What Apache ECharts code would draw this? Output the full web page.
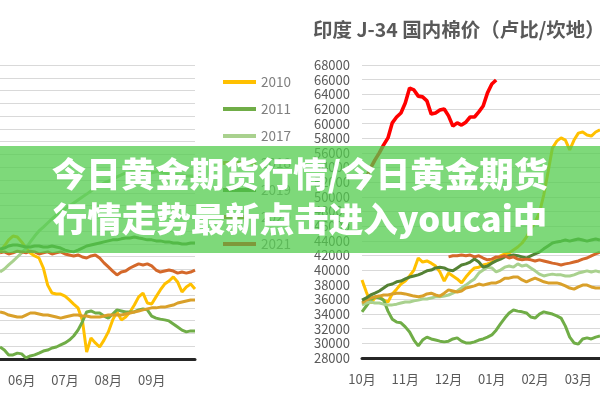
<!DOCTYPE html>
<html><head><meta charset="utf-8">
<script src="https://cdn.jsdelivr.net/npm/echarts/dist/echarts.min.js"></script>
<style>html,body{margin:0;padding:0;background:#fff}#c{width:600px;height:400px}</style>
</head><body><div id="c"></div>
<script>
// ---------- data ----------
const legendYears = ['2010','2011','2017','2018','2019','2020','2021'];
const yearColors  = ['#FFC000','#70AD47','#A9D18E','#D9A02A','#548235','#D4682A','#FF0000'];

// left chart (cut off on the left), 46 samples, month ticks at listed indices
const leftMonthTicks = {5:'06月',15:'07月',25:'08月',35:'09月'};
const left2010 = [101.9,104.2,106.6,108.1,107.7,105.8,103.4,101.5,100.3,99.5,95.6,88.9,85.8,85.4,85.4,84.6,83.1,81.5,80.0,75.3,62.7,68.2,66.3,64.7,67.4,70.6,75.3,78.4,75.3,76.4,78.4,81.1,84.3,85.8,81.9,81.5,84.3,87.0,89.3,90.5,92.1,90.1,86.2,88.2,89.3,87.4];
const left2011 = [64.7,63.5,61.6,61.6,62.3,62.0,60.4,61.2,61.6,62.3,63.1,63.5,64.3,64.7,65.5,66.3,67.4,69.0,71.3,74.5,78.4,78.8,78.0,78.0,76.8,76.0,77.6,79.2,78.8,78.4,78.4,78.4,79.2,79.6,79.2,76.8,76.0,75.6,75.3,74.9,73.7,72.5,71.3,70.6,71.0,71.0];
const left2017 = [94.0,95.2,96.8,98.3,99.9,101.5,103.4,105.8,108.1,110.1,111.6,113.2,114.8,116.3,117.5,118.7,119.9,121.0,122.2,123.4,124.5,125.7,126.9,127.7,128.8,129.6,130.4,131.2,132.0,132.8,133.2,133.2,133.6,133.6,133.2,132.8,133.2,133.2,132.8,132.4,132.4,132.0,132.0,131.6,131.6,131.6];
const left2018 = [78.4,78.0,77.2,76.8,76.4,76.4,77.2,78.0,78.0,77.6,77.2,77.2,76.8,76.4,76.0,76.4,76.8,77.2,77.2,76.8,76.8,76.4,76.4,76.4,76.8,77.2,77.2,77.2,77.2,77.6,78.0,78.4,78.8,79.2,79.6,80.0,80.0,80.3,80.3,80.7,81.1,81.9,82.3,82.7,83.1,83.1];
const left2019 = [103.0,103.4,104.2,104.6,104.6,104.2,103.8,103.8,104.2,104.2,103.8,103.8,104.2,103.8,103.4,102.6,102.2,101.9,102.6,103.4,104.2,104.6,105.0,105.4,105.8,106.2,106.6,106.6,107.0,107.3,107.3,107.7,107.3,107.0,106.6,106.6,106.2,106.2,105.8,105.8,105.4,105.4,105.0,105.0,105.4,105.4];
const left2020 = [101.5,101.9,101.1,101.5,102.2,101.9,101.5,102.2,101.9,101.1,101.5,101.9,101.1,101.5,101.9,101.1,100.7,100.3,100.7,99.9,99.5,100.3,100.7,99.5,97.6,96.0,94.4,92.9,94.0,94.4,95.6,96.4,97.2,96.8,97.2,96.4,94.8,94.0,94.4,94.8,94.4,93.6,94.0,93.6,94.0,94.8];

// right chart: India J-34 domestic price (rupee / candy), 56 samples from October
const rightMonthTicks = {0:'10月',10:'11月',20:'12月',30:'01月',40:'02月',50:'03月'};
const right2010 = [38650,37000,35500,36200,36450,35900,35650,36750,37400,38100,38500,39200,40000,41650,41100,41250,40950,40550,39750,38500,39600,39200,38800,38250,39050,39750,40300,40400,40700,40850,41100,41400,41950,42200,42350,42750,43150,43700,44500,45600,46550,47800,50250,53400,56650,57600,58050,57750,56400,57750,58700,58850,58450,58300,58850,59150];
const right2011 = [34300,35100,35900,36350,36200,35900,34400,33300,32900,32800,32250,31550,30450,29650,30450,30850,30600,30450,30300,30200,30300,30600,30750,30300,30050,30050,30200,30450,30600,30850,31150,31800,32650,33450,34150,34550,34400,34300,34150,33600,33450,34000,34300,34150,34000,33750,33450,32350,30850,30050,29900,30600,30750,30600,30850,31000];
const right2017 = [35250,35500,35650,35500,35500,35350,35250,35250,35350,35500,35650,35650,35800,35900,36050,36050,36200,36350,36350,36450,36600,36850,37150,37550,37950,38400,38800,39600,40000,40400,40300,39750,40000,40400,40550,40400,40850,40550,40700,40300,39900,39450,39200,39350,39450,39350,39350,39200,39200,39350,39600,39750,39900,39750,39900,39750];
const right2018 = [35500,35900,36200,36350,36450,36600,36600,36750,36850,36850,36750,36600,36450,36350,36450,36750,36850,36600,36450,36850,37300,37150,37000,37150,37550,37700,37850,38100,37950,38100,38250,38250,38500,38900,38900,39050,39050,38650,38400,38650,38900,38650,38400,38250,38250,38250,38100,37850,37550,37400,37700,37950,37950,37700,37550,37550];
const right2019 = [35900,36200,36600,36850,37150,37550,37950,38100,38400,38500,38800,39050,39200,39350,39600,39900,40000,40300,40400,40300,40000,39900,40300,40700,40850,41100,41500,41100,40400,40550,40950,41250,41500,41800,41950,42050,41950,41800,41650,41950,42200,42450,42900,43300,43700,43850,43950,44100,43950,44100,44250,44100,43950,44100,44250,44100];
const right2020 = [null,null,null,null,null,null,null,null,null,null,null,null,null,null,null,null,null,null,null,null,41800,41950,41950,42050,41950,42050,41800,41950,41650,41400,41500,41800,41800,41950,41650,41800,41500,41400,41500,41400,41250,41400,41250,41100,40950,40850,40700,40850,40950,41100,41250,41500,41650,41950,42200,42450];
const right2021 = [51200,52550,53950,55050,56000,57100,58050,60100,60900,61450,62800,64850,64600,63750,63650,63100,61300,61450,61850,62000,61050,59650,60100,59800,60200,60900,60900,61600,62400,64200,65400,65950];

const rightTitle = '印度 J-34 国内棉价（卢比/坎地）';
const bannerLines = ['今日黄金期货行情/今日黄金期货', '行情走势最新点击进入youcai中'];

// ---------- chart ----------
const FONT = '"Noto Sans CJK SC", "Noto Sans", sans-serif';
const leftSeriesData  = [left2010, left2011, left2017, left2018, left2019, left2020, null];
const rightSeriesData = [right2010, right2011, right2017, right2018, right2019, right2020, right2021];

const leftCats  = left2010.map((_, i) => String(i));
const rightCats = right2010.map((_, i) => String(i));

function lineSeries(name, color, data, axis, width) {
  return {
    type: 'line', name, data, xAxisIndex: axis, yAxisIndex: axis,
    showSymbol: false, symbol: 'none', connectNulls: false,
    lineStyle: { color, width }, itemStyle: { color },
    z: name === '2021' ? 5 : 3
  };
}
const series = [];
legendYears.forEach((y, k) => {
  if (leftSeriesData[k]) series.push(lineSeries(y, yearColors[k], leftSeriesData[k], 0, 3));
});
legendYears.forEach((y, k) => {
  series.push(lineSeries(y, yearColors[k], rightSeriesData[k], 1, y === '2021' ? 3.6 : 3));
});

const axisLabelStyle = { color: '#595959', fontSize: 13, fontFamily: FONT };
const chart = echarts.init(document.getElementById('c'), null, { renderer: 'canvas' });
chart.setOption({
  animation: false,
  backgroundColor: '#ffffff',
  grid: [
    { left: 0, top: 65, width: 195, height: 294 },
    { left: 362, top: 65, width: 238.3, height: 293 }
  ],
  xAxis: [
    { type: 'category', gridIndex: 0, data: leftCats, boundaryGap: false,
      axisLine: { lineStyle: { color: '#262626', width: 3 } }, axisTick: { show: false },
      axisLabel: Object.assign({ margin: 15, interval: (i) => i in leftMonthTicks,
        formatter: (v, i) => leftMonthTicks[i] || '' }, axisLabelStyle) },
    { type: 'category', gridIndex: 1, data: rightCats, boundaryGap: false,
      axisLine: { lineStyle: { color: '#262626', width: 3 } }, axisTick: { show: false },
      axisLabel: Object.assign({ margin: 15, interval: (i) => i in rightMonthTicks,
        formatter: (v, i) => rightMonthTicks[i] || '' }, axisLabelStyle) }
  ],
  yAxis: [
    { type: 'value', gridIndex: 0, min: 60, max: 175, interval: 5,
      axisLabel: { show: false }, axisLine: { show: false }, axisTick: { show: false },
      splitLine: { lineStyle: { color: '#D9D9D9', width: 1 } } },
    { type: 'value', gridIndex: 1, min: 28000, max: 68000, interval: 2000,
      axisLabel: Object.assign({ margin: 12, formatter: (v) => String(v) }, axisLabelStyle),
      axisLine: { show: false }, axisTick: { show: false },
      splitLine: { lineStyle: { color: '#D9D9D9', width: 1 } } }
  ],
  legend: {
    data: legendYears, orient: 'vertical', left: 218, top: 70,
    icon: 'rect', itemWidth: 33, itemHeight: 4, itemGap: 13,
    textStyle: { color: '#7F7F7F', fontSize: 13.5, lineHeight: 14, fontFamily: FONT },
    selectedMode: false
  },
  graphic: [
    { type: 'text', left: 313, top: 20, z: 10,
      style: { text: rightTitle, fill: '#595959', font: 'bold 19.5px ' + FONT } },
    { type: 'rect', left: 0, top: 146, z: 100,
      shape: { width: 600, height: 107 },
      style: { fill: 'rgba(83,204,78,0.75)' } },
    { type: 'text', z: 101, left: 'center', top: 157,
      style: { text: bannerLines[0], fill: '#ffffff', font: '900 34.5px ' + FONT } },
    { type: 'text', z: 101, left: 'center', top: 202,
      style: { text: bannerLines[1], fill: '#ffffff', font: '900 34.5px ' + FONT } }
  ],
  series
});
</script>
</body></html>
